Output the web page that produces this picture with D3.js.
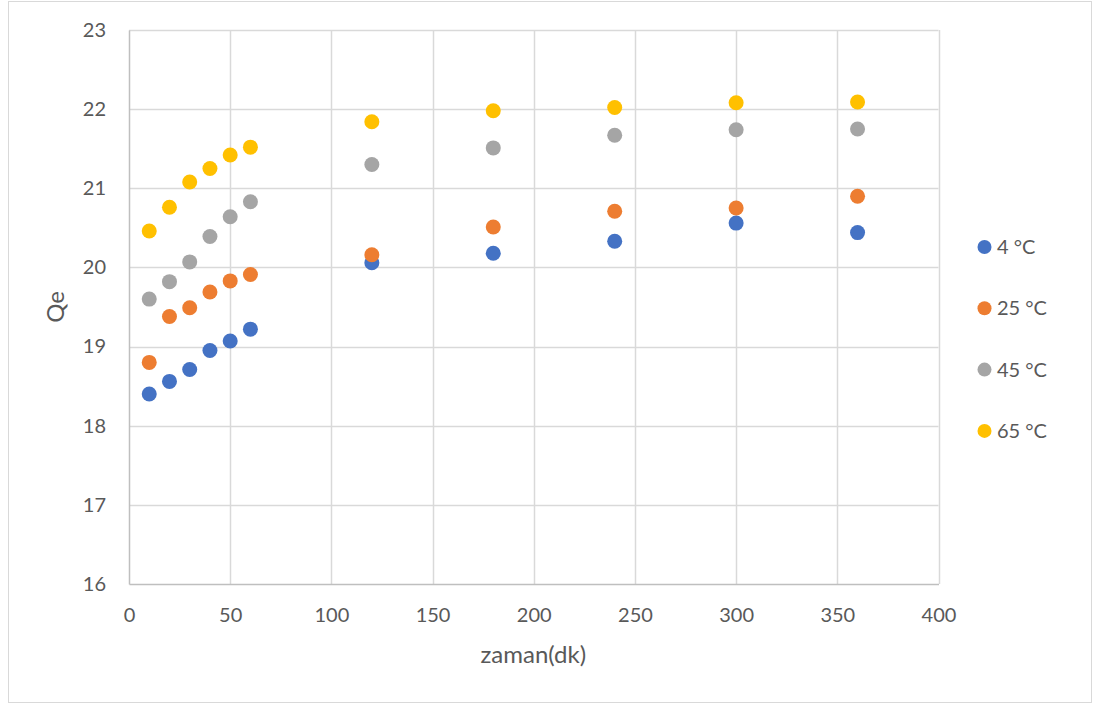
<!DOCTYPE html>
<html>
<head>
<meta charset="utf-8">
<script src="https://cdn.jsdelivr.net/npm/d3@7/dist/d3.min.js"></script>
<style>
  html, body { margin: 0; padding: 0; background: #fff; }
  svg { display: block; }
  text { font-family: Lato, "Open Sans", sans-serif; fill: #595959; }
</style>
</head>
<body>
<svg id="chart" width="1094" height="705"></svg>
<script>
// sampling times (dk)
const times = [10, 20, 30, 40, 50, 60, 120, 180, 240, 300, 360];

// Qe values per temperature
const qe4  = [18.40, 18.56, 18.71, 18.95, 19.07, 19.22, 20.06, 20.18, 20.33, 20.56, 20.44];
const qe25 = [18.80, 19.38, 19.49, 19.69, 19.83, 19.91, 20.16, 20.51, 20.71, 20.75, 20.90];
const qe45 = [19.60, 19.82, 20.07, 20.39, 20.64, 20.83, 21.30, 21.51, 21.67, 21.74, 21.75];
const qe65 = [20.46, 20.76, 21.08, 21.25, 21.42, 21.52, 21.84, 21.98, 22.02, 22.08, 22.09];

const seriesNames = ["4 °C", "25 °C", "45 °C", "65 °C"];
const seriesColors = ["#4472C4", "#ED7D31", "#A5A5A5", "#FFC000"];
const seriesValues = [qe4, qe25, qe45, qe65];

const xTicks = [0, 50, 100, 150, 200, 250, 300, 350, 400];
const yTicks = [16, 17, 18, 19, 20, 21, 22, 23];

const svg = d3.select("#chart");

// chart area frame
svg.append("rect")
  .attr("x", 8.5).attr("y", 1.5)
  .attr("width", 1083).attr("height", 701)
  .attr("fill", "#fff").attr("stroke", "#d9d9d9").attr("stroke-width", 1);

const plot = { left: 129, top: 30, right: 938.5, bottom: 584 };

const x = d3.scaleLinear().domain([0, 400]).range([plot.left, plot.right]);
const y = d3.scaleLinear().domain([16, 23]).range([plot.bottom, plot.top]);

// gridlines
const grid = svg.append("g");
grid.selectAll("line.v").data(xTicks.slice(1)).join("line")
  .attr("x1", d => Math.round(x(d)) + 0.5).attr("x2", d => Math.round(x(d)) + 0.5)
  .attr("y1", plot.top).attr("y2", plot.bottom)
  .attr("stroke", "#d9d9d9").attr("stroke-width", 1.5);
grid.selectAll("line.h").data(yTicks.slice(1)).join("line")
  .attr("x1", plot.left).attr("x2", plot.right)
  .attr("y1", d => Math.round(y(d)) + 0.5).attr("y2", d => Math.round(y(d)) + 0.5)
  .attr("stroke", "#d9d9d9").attr("stroke-width", 1.5);

// axes
const xAxis = d3.axisBottom(x).tickValues(xTicks).tickFormat(d3.format("d")).tickSize(0).tickPadding(24);
const yAxis = d3.axisLeft(y).tickValues(yTicks).tickFormat(d3.format("d")).tickSize(0).tickPadding(23);

const gx = svg.append("g").attr("transform", `translate(0,${plot.bottom})`).call(xAxis);
const gy = svg.append("g").attr("transform", `translate(${plot.left},0)`).call(yAxis);
[gx, gy].forEach(g => {
  g.select(".domain").attr("stroke", "#bfbfbf").attr("stroke-width", 1.5);
  g.selectAll("text").attr("font-size", 20).attr("fill", "#595959")
    .style("font-family", "Lato, 'Open Sans', sans-serif");
});
gx.selectAll("text").attr("dy", "0.71em");

// axis titles
svg.append("text")
  .attr("x", (plot.left + plot.right) / 2 - 0.5).attr("y", 663)
  .attr("text-anchor", "middle").attr("font-size", 24)
  .text("zaman(dk)");
svg.append("text")
  .attr("transform", `translate(64,307) rotate(-90)`)
  .attr("text-anchor", "middle").attr("font-size", 24)
  .text("Qe");

// markers
seriesValues.forEach((vals, i) => {
  svg.append("g").selectAll("circle")
    .data(times.map((t, k) => [t, vals[k]]))
    .join("circle")
    .attr("cx", d => x(d[0])).attr("cy", d => y(d[1]))
    .attr("r", 7.5)
    .attr("fill", seriesColors[i]);
});

// legend
const legend = svg.append("g");
seriesNames.forEach((name, i) => {
  const ly = 247 + i * 61.3;
  legend.append("circle").attr("cx", 984.5).attr("cy", ly).attr("r", 7)
    .attr("fill", seriesColors[i]);
  legend.append("text").attr("x", 997).attr("y", ly).attr("dy", "0.35em")
    .attr("font-size", 20).text(name);
});
</script>
</body>
</html>
